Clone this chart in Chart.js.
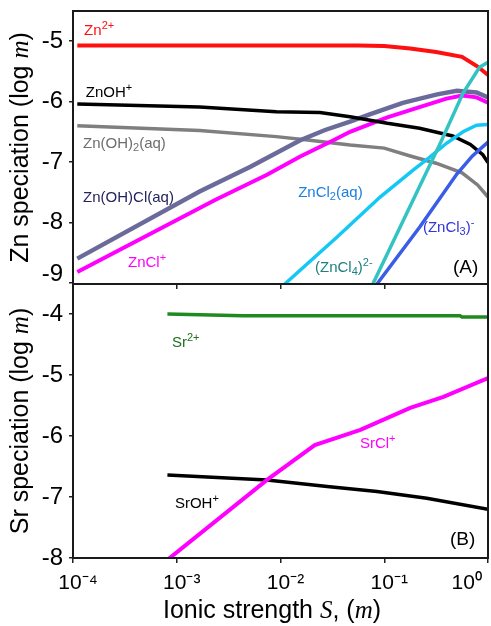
<!DOCTYPE html>
<html>
<head>
<meta charset="utf-8">
<script src="https://cdn.jsdelivr.net/npm/chart.js@4.4.1/dist/chart.umd.min.js"></script>
<style>
  html, body { margin: 0; padding: 0; background: #fff; }
  #wrap { position: relative; width: 491px; height: 626px; }
  .panel { position: absolute; left: 0; width: 491px; }
</style>
</head>
<body>
<div id="wrap">
  <div class="panel" style="top:0;height:300px"><canvas id="chartA"></canvas></div>
  <div class="panel" style="top:274px;height:352px"><canvas id="chartB"></canvas></div>
</div>
<script>
// axis ticks
const xTicks = [1e-4, 1e-3, 1e-2, 1e-1, 1];
const xTickLabels = ['10⁻⁴', '10⁻³', '10⁻²', '10⁻¹', '10⁰'];
const znTicks = [-9, -8, -7, -6, -5];
const srTicks = [-8, -7, -6, -5, -4];

// panel A: Zn species, ionic strength S (m) vs log m
const zn2S = [1.1e-4, 1e-3, 0.01, 0.056, 0.1, 0.178, 0.316, 0.562, 0.794, 1.0];
const zn2M = [-5.07, -5.07, -5.07, -5.07, -5.08, -5.12, -5.18, -5.26, -5.42, -5.56];

const znohS = [1.1e-4, 1.66e-3, 9.12e-3, 0.024, 0.0468, 0.107, 0.219, 0.457, 0.676, 0.891, 1.0];
const znohM = [-6.04, -6.09, -6.17, -6.18, -6.25, -6.36, -6.44, -6.57, -6.71, -6.88, -7.01];

const znoh2S = [1.1e-4, 1.66e-3, 9.12e-3, 0.0191, 0.0468, 0.1, 0.178, 0.316, 0.562, 0.794, 1.0];
const znoh2M = [-6.40, -6.48, -6.58, -6.64, -6.72, -6.77, -6.90, -7.02, -7.18, -7.38, -7.58];

const znohclS = [1.1e-4, 1.66e-3, 5.13e-3, 0.0155, 0.0269, 0.0468, 0.0724, 0.151, 0.324, 0.501, 0.776, 1.0];
const znohclM = [-8.60, -7.49, -7.08, -6.64, -6.47, -6.33, -6.21, -6.02, -5.88, -5.82, -5.85, -5.93];

const znclS = [1.1e-4, 2.34e-3, 7.41e-3, 0.0155, 0.0324, 0.0468, 0.107, 0.219, 0.398, 0.562, 0.776, 1.0];
const znclM = [-8.82, -7.63, -7.21, -6.91, -6.64, -6.50, -6.26, -6.09, -5.95, -5.90, -5.93, -6.02];

const zncl2S = [0.011, 0.0347, 0.0912, 0.191, 0.275, 0.398, 0.575, 0.776, 1.0];
const zncl2M = [-9.02, -8.25, -7.58, -7.13, -6.92, -6.69, -6.50, -6.39, -6.38];

const zncl3S = [0.0851, 0.219, 0.501, 0.708, 1.0];
const zncl3M = [-9.02, -8.08, -7.20, -6.90, -6.67];

const zncl4S = [0.0776, 0.347, 0.575, 0.832, 1.0];
const zncl4M = [-9.02, -6.69, -5.86, -5.43, -5.35];

// panel B: Sr species
const sr2S = [8.13e-4, 4.37e-3, 0.537, 0.562, 1.0];
const sr2M = [-4.00, -4.03, -4.03, -4.05, -4.05];

const srohS = [8.13e-4, 7.41e-3, 0.0282, 0.0851, 0.257, 1.0];
const srohM = [-6.64, -6.72, -6.83, -6.91, -7.02, -7.20];

const srclS = [8.13e-4, 7.41e-3, 0.0214, 0.0589, 0.178, 0.372, 1.0];
const srclM = [-8.03, -6.72, -6.15, -5.90, -5.54, -5.36, -5.05];

// in-plot labels (placed in data units)
const notesA = [
  { text: 'Zn^{2+}', x: 1.28e-4, y: -4.90, color: '#ff1010' },
  { text: 'ZnOH^{+}', x: 1.33e-4, y: -5.93, color: '#000' },
  { text: 'Zn(OH)_{2}(aq)', x: 1.25e-4, y: -6.77, color: '#6e6e6e' },
  { text: 'Zn(OH)Cl(aq)', x: 1.25e-4, y: -7.66, color: '#23235f' },
  { text: 'ZnCl^{+}', x: 3.39e-4, y: -8.74, color: '#ff00ff' },
  { text: 'ZnCl_{2}(aq)', x: 0.0148, y: -7.58, color: '#1e7fe0' },
  { text: '(ZnCl_{3})^{-}', x: 0.236, y: -8.16, color: '#3333dd' },
  { text: '(ZnCl_{4})^{2-}', x: 0.0215, y: -8.82, color: '#1f8080' },
  { text: '(A)', x: 0.46, y: -8.83, color: '#000', size: 19 }
];
const notesB = [
  { text: 'Sr^{2+}', x: 9.0e-4, y: -4.54, color: '#1f701f' },
  { text: 'SrCl^{+}', x: 0.0583, y: -6.20, color: '#ff00ff' },
  { text: 'SrOH^{+}', x: 9.6e-4, y: -7.18, color: '#000' },
  { text: '(B)', x: 0.43, y: -7.79, color: '#000', size: 19 }
];

Chart.defaults.font.family = '"Liberation Sans", Arial, sans-serif';
Chart.defaults.color = '#000';

function pts(xs, ys) {
  return xs.map((x, i) => ({ x: x, y: ys[i] }));
}

function line(xs, ys, color, w) {
  return { data: pts(xs, ys), borderColor: color, borderWidth: w, pointRadius: 0, fill: false, tension: 0 };
}

// tiny rich text: ^{sup} _{sub} *{italic}
function parseRich(str) {
  const out = [];
  const re = /([\^_*])\{([^}]*)\}/g;
  let last = 0, m;
  while ((m = re.exec(str))) {
    if (m.index > last) out.push({ t: str.slice(last, m.index), mode: 'n' });
    out.push({ t: m[2], mode: m[1] === '^' ? 'sup' : m[1] === '_' ? 'sub' : 'it' });
    last = re.lastIndex;
  }
  if (last < str.length) out.push({ t: str.slice(last), mode: 'n' });
  return out;
}
function segFont(mode, size) {
  if (mode === 'sup' || mode === 'sub') return Math.round(size * 0.7) + 'px "Liberation Sans", Arial, sans-serif';
  if (mode === 'it') return 'italic ' + size + 'px "Liberation Serif", "Times New Roman", serif';
  return size + 'px "Liberation Sans", Arial, sans-serif';
}
function drawRich(ctx, str, x, y, size, color, align) {
  const segs = parseRich(str);
  ctx.save();
  ctx.fillStyle = color;
  ctx.textBaseline = 'alphabetic';
  ctx.textAlign = 'left';
  let w = 0;
  segs.forEach(s => { ctx.font = segFont(s.mode, size); s.w = ctx.measureText(s.t).width; w += s.w; });
  let cx = align === 'center' ? x - w / 2 : x;
  segs.forEach(s => {
    ctx.font = segFont(s.mode, size);
    const dy = s.mode === 'sup' ? -size * 0.42 : s.mode === 'sub' ? size * 0.22 : 0;
    ctx.fillText(s.t, cx, y + dy);
    cx += s.w;
  });
  ctx.restore();
}

const decor = {
  id: 'decor',
  afterDatasetsDraw(chart, args, opts) {
    const ctx = chart.ctx, a = chart.chartArea;
    ctx.save();
    ctx.strokeStyle = '#1a1a1a';
    ctx.lineWidth = 2;
    ctx.strokeRect(a.left, a.top, a.right - a.left, a.bottom - a.top);
    ctx.restore();
    const xs = chart.scales.x, ys = chart.scales.y;
    opts.notes.forEach(n => {
      drawRich(ctx, n.text, xs.getPixelForValue(n.x), ys.getPixelForValue(n.y), n.size || 15, n.color, 'left');
    });
    ctx.save();
    ctx.translate(28, (a.top + a.bottom) / 2);
    ctx.rotate(-Math.PI / 2);
    drawRich(ctx, opts.yTitle, 0, 0, 25, '#000', 'center');
    ctx.restore();
    if (opts.xTitle) drawRich(ctx, opts.xTitle, 272, chart.height - 8, 25, '#000', 'center');
  }
};

function setTicks(list) {
  return s => { s.ticks = list.map(v => ({ value: v })); };
}

function yAxis(min, max, list, lowLabel) {
  return {
    min: min, max: max,
    afterBuildTicks: setTicks(list),
    afterFit: s => { s.width = 73; s.paddingTop = 0; s.paddingBottom = 0; },
    ticks: {
      // the lowest label of the top panel sits a little above its tick
      callback: v => (v === lowLabel ? [String(v), ''] : String(v)),
      font: c => (c.tick && c.tick.value === lowLabel ? { size: 24, lineHeight: '16px' } : { size: 24 }),
      color: '#000', padding: 6
    },
    grid: { drawOnChartArea: false, tickLength: 4, color: '#222', lineWidth: 1.5 },
    border: { display: false }
  };
}

// top panel
new Chart(document.getElementById('chartA'), {
  type: 'line',
  data: {
    datasets: [
      line(zncl4S, zncl4M, '#33c3c3', 3.5),
      line(zn2S, zn2M, '#ff1010', 4),
      line(zncl3S, zncl3M, '#3a5de8', 3.5),
      line(zncl2S, zncl2M, '#14c8f5', 3.5),
      line(znohS, znohM, '#000000', 3.5),
      line(znclS, znclM, '#ff00ff', 4),
      line(znohclS, znohclM, '#6b6b9b', 4.5),
      line(znoh2S, znoh2M, '#7f7f7f', 3.5)
    ]
  },
  options: {
    animation: false,
    responsive: true,
    maintainAspectRatio: false,
    layout: { padding: { top: 11, right: 3, left: 0, bottom: 0 } },
    plugins: {
      legend: { display: false },
      tooltip: { enabled: false },
      decor: { notes: notesA, yTitle: 'Zn speciation (log *{m})' }
    },
    scales: {
      x: {
        type: 'logarithmic', min: 1e-4, max: 1,
        afterBuildTicks: setTicks(xTicks),
        afterFit: s => { s.height = 16; s.paddingLeft = 0; s.paddingRight = 0; },
        ticks: { display: false },
        grid: { drawOnChartArea: false, tickLength: 5, color: '#222', lineWidth: 1.5 },
        border: { display: false }
      },
      y: yAxis(-9.02, -4.5, znTicks, -9)
    }
  },
  plugins: [decor]
});

// bottom panel
new Chart(document.getElementById('chartB'), {
  type: 'line',
  data: {
    datasets: [
      line(sr2S, sr2M, '#1f8a1f', 3.5),
      line(srclS, srclM, '#ff00ff', 4),
      line(srohS, srohM, '#000000', 3.5)
    ]
  },
  options: {
    animation: false,
    responsive: true,
    maintainAspectRatio: false,
    layout: { padding: { top: 10, right: 3, left: 0, bottom: 0 } },
    plugins: {
      legend: { display: false },
      tooltip: { enabled: false },
      decor: { notes: notesB, yTitle: 'Sr speciation (log *{m})', xTitle: 'Ionic strength *{S}, (*{m})' }
    },
    scales: {
      x: {
        type: 'logarithmic', min: 1e-4, max: 1,
        afterBuildTicks: setTicks(xTicks),
        afterFit: s => { s.height = 68; s.paddingLeft = 0; s.paddingRight = 0; },
        ticks: {
          // last label is pulled left so it stays inside the page
          callback: (v, i, all) => xTickLabels[xTicks.indexOf(v)] + (i === all.length - 1 ? '         ' : ''),
          font: { size: 21 }, color: '#000', padding: 8, labelOffset: 5,
          maxRotation: 0, autoSkip: false
        },
        grid: { drawOnChartArea: false, tickLength: 5, color: '#222', lineWidth: 1.5 },
        border: { display: false }
      },
      y: yAxis(-8, -3.51, srTicks, null)
    }
  },
  plugins: [decor]
});
</script>
</body>
</html>
